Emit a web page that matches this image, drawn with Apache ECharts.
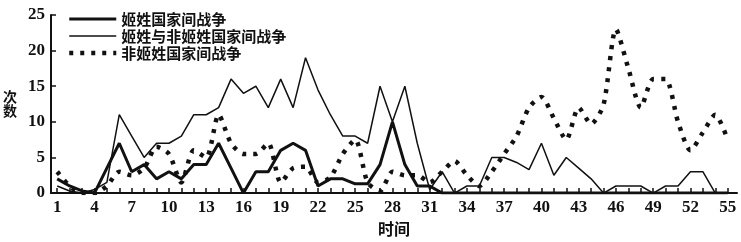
<!DOCTYPE html>
<html>
<head>
<meta charset="utf-8">
<script src="https://cdn.jsdelivr.net/npm/echarts@6/dist/echarts.min.js"></script>
<style>
html,body{margin:0;padding:0;background:#fff;}
#chart{width:741px;height:242px;}
</style>
</head>
<body>
<div id="chart"></div>
<script>
// Time points (x positions)
const timePoints = [1,2,3,4,5,6,7,8,9,10,11,12,13,14,15,16,17,18,19,20,21,22,23,24,25,26,27,28,29,30,31,32,33,34,35,36,37,38,39,40,41,42,43,44,45,46,47,48,49,50,51,52,53,54,55];
// x tick labels
const xTickLabels = [1,4,7,10,13,16,19,22,25,28,31,34,37,40,43,46,49,52,55];
// series names
const seriesNames = ['姬姓国家间战争', '姬姓与非姬姓国家间战争', '非姬姓国家间战争'];
// 姬姓国家间战争 (thick solid)
const jiWars = [2,1,0.3,0,3.5,7,3,4,2,3, 2,4,4,7,3.5,0,3,3,6,7, 6,1,2,2,1.3,1.3,4,10,4,1, 1,0,0,0,0,0,0,0,0,0, 0,0,0,0,0,0,0,0,0,0, 0,0,0,0,0];
// 姬姓与非姬姓国家间战争 (thin solid)
const mixedWars = [1,0.3,0,0.5,1.5,11,8,5,7,7, 8,11,11,12,16,14,15,12,16,12, 19,14.5,11,8,8,7,15,10,15,7, 0.5,3,0,1,1,5,5,4.3,3.3,7, 2.5,5,3.5,2,0,1,1,1,0,1, 1,3,3,0,0];
// 非姬姓国家间战争 (dotted)
const nonJiWars = [3,1,0,0,1,3,2.5,3.5,6.5,5.5, 1.5,6,5,11,7,5.5,5.5,7,1.5,3.5, 3.7,1.5,2.2,5.5,7.5,1.5,0.3,3,2.5,2.5, 1.5,3,4.5,2.5,1,3,5.5,8,12,13.5, 10.5,7.5,12,9.7,12.4,23,17.5,12,16,16, 10,6,8.5,11,7.5];

function pairs(vals){ return timePoints.map((t,i)=>[t, vals[i]]); }

const chart = echarts.init(document.getElementById('chart'), null, {renderer:'canvas'});
const black = '#111';
const numFont = '"Liberation Serif","DejaVu Serif",serif';
const cjkFont = '"Noto Sans CJK SC","Noto Sans",sans-serif';
const widths = [3, 1.5, 4.5];

chart.setOption({
  animation: false,
  backgroundColor: '#fff',
  grid: {left: 49, right: 4, top: 15, bottom: 39, containLabel: false},
  legend: {
    orient: 'vertical', left: 62, top: 6, itemGap: 1,
    itemWidth: 47, itemHeight: 16,
    itemStyle: {opacity: 0},
    textStyle: {fontFamily: cjkFont, fontSize: 15, fontWeight: 'bold', color: black, lineHeight: 16},
    data: seriesNames.map((n, i) => ({name: n, lineStyle: {width: widths[i]}}))
  },
  xAxis: {
    type: 'value', min: 0.5, max: 55.75,
    name: '时间', nameLocation: 'middle', nameGap: 26,
    nameTextStyle: {fontFamily: cjkFont, fontSize: 16, fontWeight: 'bold', color: black, verticalAlign: 'middle'},
    axisLine: {show: true, onZero: false, lineStyle: {color: black, width: 2}},
    axisTick: {show: true, inside: true, length: 5, customValues: timePoints, lineStyle: {color: black, width: 1.5}},
    axisLabel: {customValues: xTickLabels, margin: 6, fontFamily: numFont, fontSize: 17, fontWeight: 'bold', color: black},
    splitLine: {show: false}
  },
  yAxis: {
    type: 'value', min: 0, max: 25, interval: 5,
    name: '次\n数', nameLocation: 'middle', nameGap: 41, nameRotate: 0,
    nameTextStyle: {fontFamily: cjkFont, fontSize: 14, fontWeight: 'bold', color: black, align: 'center', verticalAlign: 'middle', lineHeight: 14},
    axisLine: {show: true, lineStyle: {color: black, width: 2}},
    axisTick: {show: true, inside: true, length: 5, lineStyle: {color: black, width: 1.5}},
    axisLabel: {margin: 6, fontFamily: numFont, fontSize: 17, fontWeight: 'bold', color: black},
    splitLine: {show: false}
  },
  series: [
    {name: seriesNames[0], type: 'line', data: pairs(jiWars), symbol: 'none', color: black,
     lineStyle: {color: black, width: widths[0]}},
    {name: seriesNames[1], type: 'line', data: pairs(mixedWars), symbol: 'none', color: black,
     lineStyle: {color: black, width: widths[1]}},
    {name: seriesNames[2], type: 'line', data: pairs(nonJiWars), symbol: 'none', color: black, smooth: 0.25,
     lineStyle: {color: black, width: widths[2], type: [4, 7]}}
  ]
});
</script>
</body>
</html>
